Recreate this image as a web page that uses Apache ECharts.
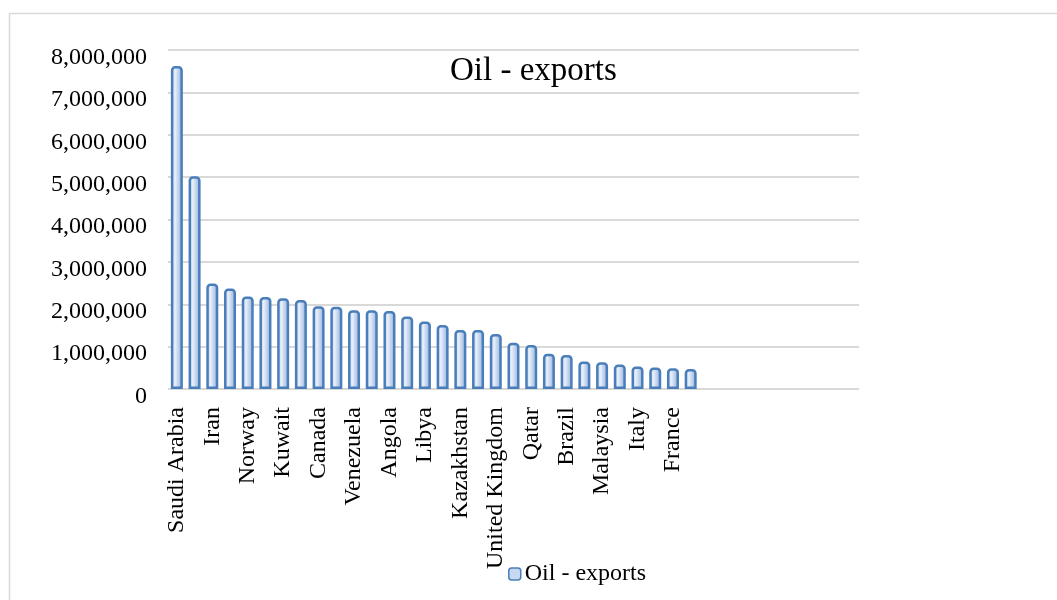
<!DOCTYPE html>
<html>
<head>
<meta charset="utf-8">
<script src="https://cdn.jsdelivr.net/npm/echarts@6/dist/echarts.min.js"></script>
<style>
  html, body { margin: 0; padding: 0; background: #fff; }
  #chart { width: 1057px; height: 600px; }
</style>
</head>
<body>
<div id="chart"></div>
<script>
const countries = [
  "Saudi Arabia", "Russia", "Iran", "United Arab Emirates", "Norway", "Iraq",
  "Kuwait", "Nigeria", "Canada", "United States", "Venezuela", "Mexico",
  "Angola", "Netherlands", "Libya", "Algeria", "Kazakhstan", "Singapore",
  "United Kingdom", "Azerbaijan", "Qatar", "Oman", "Brazil", "Sudan",
  "Malaysia", "Indonesia", "Italy", "Ecuador", "France", "Belgium",
];
const oilExports = [
  7620000, 5020000, 2490000, 2370000, 2180000, 2170000, 2140000, 2100000,
  1950000, 1940000, 1860000, 1860000, 1840000, 1710000, 1590000, 1510000,
  1390000, 1390000, 1300000, 1090000, 1040000, 830000, 800000, 650000,
  630000, 580000, 530000, 510000, 490000, 470000,
];
const yTicks = [0, 1000000, 2000000, 3000000, 4000000, 5000000, 6000000, 7000000, 8000000];

const serif = '"Liberation Serif", "DejaVu Serif", serif';
// cylinder-ish shading like the 3D office chart
const barFill = new echarts.graphic.LinearGradient(0, 0, 1, 0, [
  { offset: 0, color: "#a9c3e8" },
  { offset: 0.35, color: "#e9f0fa" },
  { offset: 1, color: "#8aabd9" },
]);

const chart = echarts.init(document.getElementById("chart"));
chart.setOption({
  animation: false,
  backgroundColor: "#fff",
  graphic: [
    {
      type: "rect",
      shape: { x: 9.5, y: 13.5, width: 1100, height: 700 },
      style: { fill: "none", stroke: "#d9d9d9", lineWidth: 1.5 },
    },
  ],
  title: {
    text: "Oil - exports",
    left: 450,
    top: 55,
    padding: 0,
    textStyle: { fontFamily: serif, fontSize: 33, fontWeight: "normal", color: "#000" },
  },
  legend: {
    left: 508,
    top: 562,
    padding: 0,
    itemWidth: 12,
    itemHeight: 12,
    itemGap: 5,
    textStyle: { fontFamily: serif, fontSize: 24, color: "#000", padding: [0, 0, 0, -1] },
    data: [{ name: "Oil - exports", itemStyle: { color: "#c6d9f1", borderColor: "#4a7ebb", borderWidth: 1.5 } }],
  },
  grid: { left: 168, right: 198, top: 50, bottom: 211 },
  xAxis: {
    type: "category",
    data: countries,
    max: 38,
    axisLine: { show: false },
    axisTick: { show: false },
    axisLabel: {
      interval: 1,
      rotate: 90,
      margin: 18,
      fontFamily: serif,
      fontSize: 24,
      color: "#000",
    },
  },
  yAxis: {
    type: "value",
    min: yTicks[0],
    max: yTicks[yTicks.length - 1],
    interval: yTicks[1] - yTicks[0],
    axisLine: { show: false },
    axisTick: { show: false },
    splitLine: { lineStyle: { color: "#d9d9d9", width: 2 } },
    axisLabel: {
      margin: 21,
      verticalAlign: "top",
      lineHeight: 15,
      fontFamily: serif,
      fontSize: 24,
      color: "#000",
      formatter: (v) => v.toLocaleString("en-US"),
    },
  },
  series: [
    {
      name: "Oil - exports",
      type: "bar",
      data: oilExports,
      barWidth: 12,
      itemStyle: {
        color: barFill,
        borderColor: "#4a7ebb",
        borderWidth: 2.5,
        borderRadius: [3, 3, 0, 0],
      },
    },
  ],
});
</script>
</body>
</html>
